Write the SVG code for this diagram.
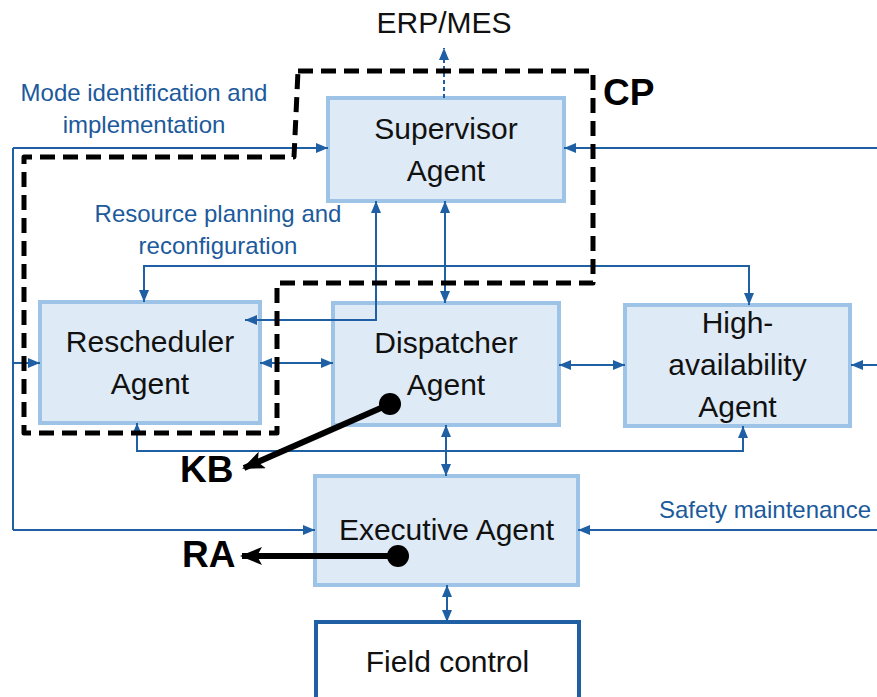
<svg xmlns="http://www.w3.org/2000/svg" width="877" height="697" viewBox="0 0 877 697">
<defs>
<style>
.box{fill:#deeaf5;stroke:#9dc3e6;stroke-width:4}
.lbl{font-family:"Liberation Sans",Arial,sans-serif;font-size:30px;fill:#111;text-anchor:middle}
.blue{font-family:"Liberation Sans",Arial,sans-serif;font-size:24px;fill:#1c5a9c;text-anchor:middle}
.big{font-family:"Liberation Sans",Arial,sans-serif;font-weight:bold;fill:#000}
.ln{fill:none;stroke:#1f5fa3;stroke-width:2}
.ab{marker-end:url(#ah)}
.ba{marker-start:url(#ah);marker-end:url(#ah)}
.kb{fill:none;stroke:#000;stroke-width:6;marker-end:url(#bk)}
</style>
<marker id="ah" viewBox="0 0 12 10" refX="12" refY="5" markerWidth="12" markerHeight="10" orient="auto-start-reverse" markerUnits="userSpaceOnUse"><path d="M0,0 L12,5 L0,10 z" fill="#1f5fa3"/></marker>
<marker id="bk" viewBox="0 0 22 18" refX="20" refY="9" markerWidth="22" markerHeight="18" orient="auto" markerUnits="userSpaceOnUse"><path d="M0,0 L22,9 L0,18 L5,9 z" fill="#000"/></marker>
</defs>
<rect width="877" height="697" fill="#fff"/>

<g id="supervisor"><rect class="box" x="328" y="98" width="236" height="103"/><text class="lbl" x="446" y="139">Supervisor</text><text class="lbl" x="446" y="181">Agent</text></g>
<g id="rescheduler"><rect class="box" x="40" y="302" width="220" height="121"/><text class="lbl" x="150" y="352">Rescheduler</text><text class="lbl" x="150" y="394">Agent</text></g>
<g id="dispatcher"><rect class="box" x="333" y="303" width="226" height="122"/><text class="lbl" x="446" y="353">Dispatcher</text><text class="lbl" x="446" y="395">Agent</text></g>
<g id="highavail"><rect class="box" x="625" y="305" width="225" height="121"/><text class="lbl" x="737.5" y="333">High-</text><text class="lbl" x="737.5" y="375">availability</text><text class="lbl" x="737.5" y="417">Agent</text></g>
<g id="executive"><rect class="box" x="315" y="476" width="263" height="109"/><text class="lbl" x="446.5" y="540">Executive Agent</text></g>
<g id="field"><rect x="316" y="622" width="263" height="100" fill="#fff" stroke="#1f5fa3" stroke-width="4"/><text class="lbl" x="447.5" y="672">Field control</text></g>

<g id="erp"><text class="lbl" x="444" y="33">ERP/MES</text></g>

<g id="connectors">
<path class="ln" d="M444,98 V48" stroke-dasharray="4,3" style="marker-end:url(#ah)"/>
<path class="ln ab" d="M13,148 H328"/>
<path class="ln" d="M13,148 V530"/>
<path class="ln ab" d="M13,363 H40"/>
<path class="ln ab" d="M13,530 H315"/>
<path class="ln ab" d="M880,148 H564"/>
<path class="ln ab" d="M880,365 H851"/>
<path class="ln ab" d="M880,530 H578"/>
<path class="ln ba" d="M144,302 V266 H749 V305"/>
<path class="ln ba" d="M445,201 V303"/>
<path class="ln ba" d="M376,201 V320 H245"/>
<path class="ln ba" d="M260,363 H333"/>
<path class="ln ba" d="M559,365 H625"/>
<path class="ln ba" d="M446,425 V476"/>
<path class="ln ba" d="M137,423 V451 H743 V426"/>
<path class="ln ba" d="M447,585 V622"/>
</g>

<g id="labels">
<text class="blue" x="144" y="101">Mode identification and</text>
<text class="blue" x="144" y="133">implementation</text>
<text class="blue" x="218" y="222">Resource planning and</text>
<text class="blue" x="218" y="254">reconfiguration</text>
<text class="blue" x="765" y="518">Safety maintenance</text>
</g>

<g id="cp">
<path d="M298,71 H593 V283 H277 V433 H24 V157 H294 Z" fill="none" stroke="#000" stroke-width="5" stroke-dasharray="15,8" stroke-linejoin="round"/>
<text class="big" x="603" y="105" font-size="37">CP</text>
</g>

<g id="kb">
<path class="kb" d="M390,404 L244,468"/>
<circle cx="390" cy="404" r="11" fill="#000"/>
<text class="big" x="180" y="482" font-size="37">KB</text>
</g>
<g id="ra">
<path class="kb" d="M398,556 L242,556"/>
<circle cx="398" cy="556" r="11" fill="#000"/>
<text class="big" x="182" y="567" font-size="37">RA</text>
</g>
</svg>
